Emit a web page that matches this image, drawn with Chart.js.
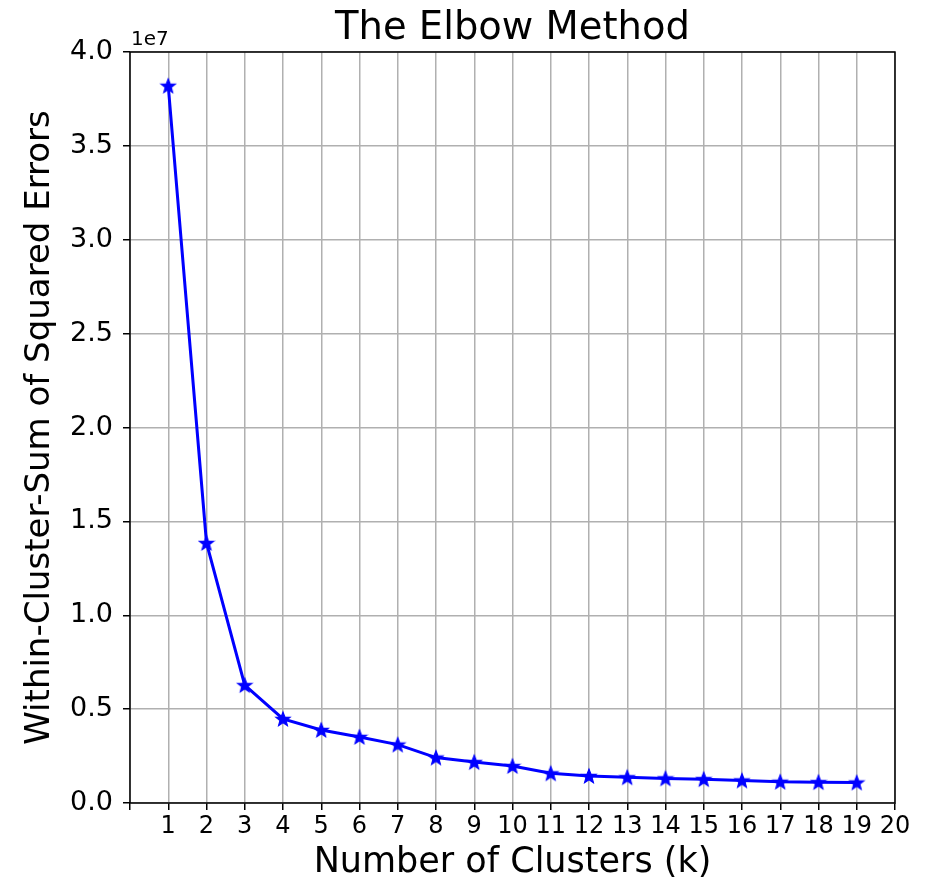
<!DOCTYPE html>
<html>
<head>
<meta charset="utf-8">
<script src="https://cdn.jsdelivr.net/npm/chart.js@4.4.0/dist/chart.umd.min.js"></script>
<style>
  html, body { margin: 0; padding: 0; background: #fff; }
  #wrap { width: 935px; height: 882px; }
</style>
</head>
<body>
<div id="wrap"><canvas id="elbowChart" width="935" height="882"></canvas></div>
<script>
// data
const clusters = [1, 2, 3, 4, 5, 6, 7, 8, 9, 10, 11, 12, 13, 14, 15, 16, 17, 18, 19];
const wcss = [38200000, 13850000, 6280000, 4480000, 3890000, 3520000, 3110000, 2420000, 2180000, 1970000,
              1580000, 1440000, 1370000, 1310000, 1270000, 1200000, 1130000, 1110000, 1090000];
const yTicks = [0, 0.5, 1.0, 1.5, 2.0, 2.5, 3.0, 3.5, 4.0];

const FONT = 'DejaVu Sans';

// filled five point star for the markers
function makeStar(color) {
  const c = document.createElement('canvas');
  c.width = 18; c.height = 18;
  const g = c.getContext('2d');
  g.beginPath();
  for (let i = 0; i < 10; i++) {
    const r = i % 2 === 0 ? 7.5 : 3.2;
    const a = -Math.PI / 2 + i * Math.PI / 5;
    const px = 9 + r * Math.cos(a), py = 9.6 + r * Math.sin(a);
    if (i === 0) g.moveTo(px, py); else g.lineTo(px, py);
  }
  g.closePath();
  g.fillStyle = color;
  g.fill();
  g.strokeStyle = color;
  g.lineWidth = 1.2;
  g.stroke();
  return c;
}
const star = makeStar('#0000ff');

// frame, title and the 1e7 offset text
const extras = {
  id: 'extras',
  afterDraw(chart) {
    const { ctx, chartArea: a } = chart;
    ctx.save();
    ctx.strokeStyle = '#000';
    ctx.lineWidth = 1.5;
    ctx.strokeRect(a.left, a.top, a.right - a.left, a.bottom - a.top);
    ctx.fillStyle = '#000';
    ctx.font = '38.5px "' + FONT + '"';
    ctx.textAlign = 'center';
    ctx.textBaseline = 'alphabetic';
    ctx.fillText('The Elbow Method', (a.left + a.right) / 2, 39);
    ctx.font = '20px "' + FONT + '"';
    ctx.textAlign = 'left';
    ctx.fillText('1e7', a.left + 1, a.top - 7);
    ctx.restore();
  }
};

new Chart(document.getElementById('elbowChart').getContext('2d'), {
  type: 'line',
  data: {
    datasets: [{
      data: clusters.map((k, i) => ({ x: k, y: wcss[i] })),
      borderColor: '#0000ff',
      borderWidth: 3,
      pointStyle: star,
      pointRadius: 8,
      tension: 0,
      fill: false
    }]
  },
  options: {
    responsive: false,
    animation: false,
    layout: { padding: { top: 52, right: 40, left: 0, bottom: 0 } },
    plugins: { legend: { display: false }, tooltip: { enabled: false } },
    scales: {
      x: {
        type: 'linear',
        min: 0,
        max: 20,
        afterFit(scale) { scale.height = 79; },
        afterBuildTicks(scale) {
          scale.ticks = [];
          for (let v = 0; v <= 20; v++) scale.ticks.push({ value: v });
        },
        ticks: {
          color: '#000',
          font: { family: FONT, size: 24 },
          padding: 2,
          maxRotation: 0,
          autoSkip: false,
          callback: v => v === 0 ? '' : String(v)
        },
        grid: { color: '#b0b0b0', lineWidth: 1.5, tickColor: '#000', tickLength: 7 },
        border: { display: false },
        title: {
          display: true,
          text: 'Number of Clusters (k)',
          color: '#000',
          font: { family: FONT, size: 35 },
          padding: { top: 0, bottom: -2 }
        }
      },
      y: {
        min: 0,
        max: 40000000,
        afterFit(scale) { scale.width = 130; },
        afterBuildTicks(scale) {
          scale.ticks = yTicks.map(t => ({ value: t * 1e7 }));
        },
        ticks: {
          color: '#000',
          font: { family: FONT, size: 27 },
          padding: 10,
          callback: v => (v / 1e7).toFixed(1)
        },
        grid: { color: '#b0b0b0', lineWidth: 1.5, tickColor: '#000', tickLength: 7 },
        border: { display: false },
        title: {
          display: true,
          text: 'Within-Cluster-Sum of Squared Errors',
          color: '#000',
          font: { family: FONT, size: 34 },
          padding: { top: 20, bottom: 0 }
        }
      }
    }
  },
  plugins: [extras]
});
</script>
</body>
</html>
